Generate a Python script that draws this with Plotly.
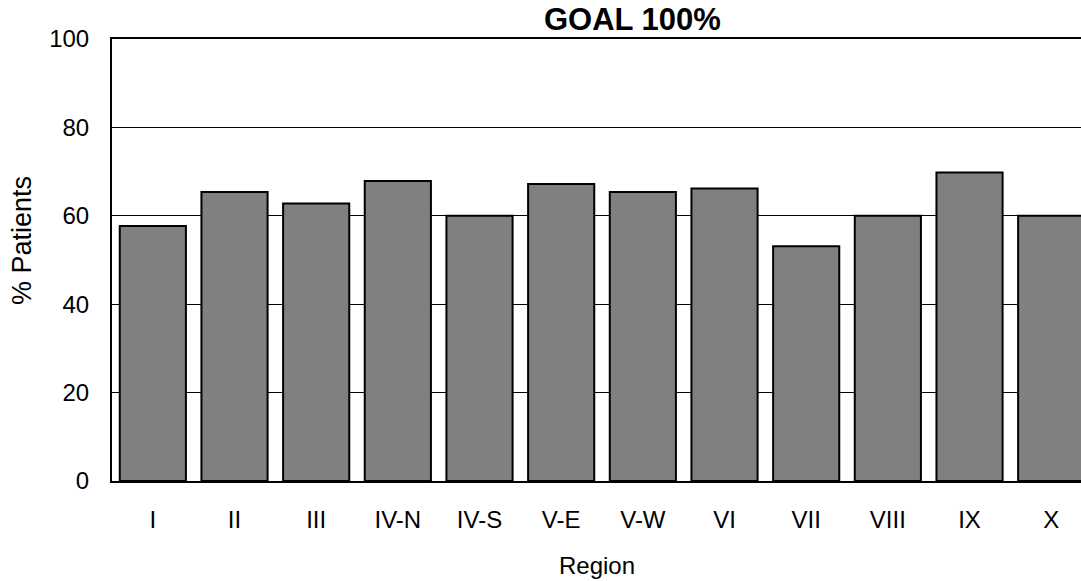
import plotly.graph_objects as go

# Share of patients by region
regions = ["I", "II", "III", "IV-N", "IV-S", "V-E", "V-W", "VI", "VII", "VIII", "IX", "X"]
pct_patients = [57.7, 65.4, 62.8, 67.9, 60.0, 67.2, 65.4, 66.2, 53.1, 60.0, 69.8, 60.0]
y_ticks = [0, 20, 40, 60, 80, 100]

FONT = "Arial, Liberation Sans, sans-serif"

fig = go.Figure(
    go.Bar(
        x=regions,
        y=pct_patients,
        marker=dict(color="#808080", line=dict(color="black", width=2)),
        hoverinfo="x+y",
    )
)

fig.update_layout(
    width=1081,
    height=581,
    margin=dict(l=112, r=0, t=39, b=100),
    paper_bgcolor="white",
    plot_bgcolor="white",
    bargap=0.19,
    showlegend=False,
    font=dict(family=FONT, size=24, color="black"),
    annotations=[
        dict(text="<b>GOAL 100%</b>", xref="paper", yref="paper",
             x=0.537, y=1, xanchor="center", yanchor="bottom", yshift=0,
             showarrow=False, font=dict(family=FONT, size=31, color="black")),
        dict(text="% Patients", xref="paper", yref="paper",
             x=-0.093, y=0.545, xanchor="center", yanchor="middle",
             textangle=-90, showarrow=False,
             font=dict(family=FONT, size=27, color="black")),
        dict(text="Region", xref="paper", yref="paper",
             x=0.5, y=0, xanchor="center", yanchor="middle", yshift=-84,
             showarrow=False, font=dict(family=FONT, size=24, color="black")),
    ],
)

fig.update_xaxes(
    range=[-0.5, 11.365],
    showline=True, linecolor="black", linewidth=2, mirror=True,
    showgrid=False, ticks="", ticklabelstandoff=16,
    tickfont=dict(family=FONT, size=24),
    fixedrange=True,
)

fig.update_yaxes(
    range=[0, 100],
    tickvals=y_ticks,
    showline=True, linecolor="black", linewidth=2,
    showgrid=True, gridcolor="black", gridwidth=1,
    zeroline=False, ticks="", ticklabelstandoff=16,
    tickfont=dict(family=FONT, size=24),
    fixedrange=True,
)

fig.write_html("out.html")
